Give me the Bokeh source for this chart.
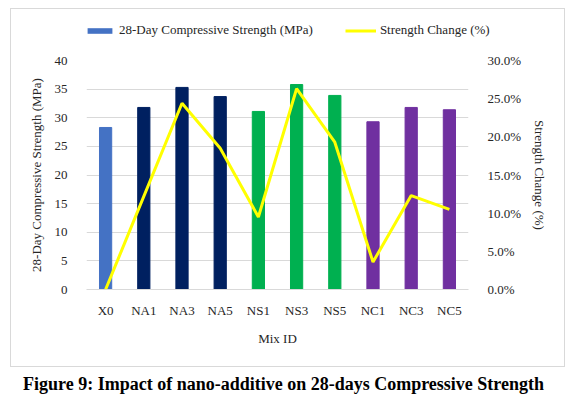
from bokeh.plotting import figure
from bokeh.models import (FactorRange, Range1d, LinearAxis, FixedTicker,
                          NumeralTickFormatter, Legend, LegendItem, ColumnDataSource, Div, Spacer)
from bokeh.layouts import column, row
from bokeh.embed import file_html
from bokeh.resources import INLINE

mixes = ["X0", "NA1", "NA3", "NA5", "NS1", "NS3", "NS5", "NC1", "NC3", "NC5"]
strength_mpa = [28.3, 31.8, 35.3, 33.7, 31.1, 35.8, 33.9, 29.3, 31.8, 31.4]
change_pct = [0.0, 12.2, 24.4, 18.5, 9.5, 26.3, 19.3, 3.6, 12.3, 10.5]
bar_colors = ["#4472C4", "#002060", "#002060", "#002060",
              "#00B050", "#00B050", "#00B050",
              "#7030A0", "#7030A0", "#7030A0"]
left_ticks = [0, 5, 10, 15, 20, 25, 30, 35, 40]
right_ticks = [0.0, 0.05, 0.10, 0.15, 0.20, 0.25, 0.30]
series_names = ["28-Day Compressive Strength (MPa)", "Strength Change (%)"]

FONT = "Liberation Serif"
GRID = "#d9d9d9"
TXT = "#262626"
LINE_COLOR = "#FFFF00"

src = ColumnDataSource(dict(
    mix=mixes, s=strength_mpa,
    c=[v / 100.0 for v in change_pct], col=bar_colors))

# ---- main chart ----
p = figure(x_range=FactorRange(*mixes), y_range=Range1d(0, 40),
           width=553, height=314, output_backend="svg", toolbar_location=None,
           min_border_left=75, min_border_right=96, min_border_top=8, min_border_bottom=77)
p.frame_align = False
p.extra_y_ranges = {"pct": Range1d(0, 0.30)}

bars = p.vbar(x="mix", top="s", width=0.32, color="col", source=src)
ln = p.line(x="mix", y="c", y_range_name="pct", source=src,
            line_color=LINE_COLOR, line_width=3)

p.outline_line_color = None
p.xgrid.grid_line_color = None
p.ygrid.grid_line_color = GRID
p.ygrid.grid_line_width = 1
p.ygrid.ticker = FixedTicker(ticks=left_ticks)

p.yaxis.ticker = FixedTicker(ticks=left_ticks)
p.yaxis.axis_label = series_names[0]

ax2 = LinearAxis(y_range_name="pct", ticker=FixedTicker(ticks=right_ticks),
                 formatter=NumeralTickFormatter(format="0.0%"),
                 axis_label=series_names[1])
p.add_layout(ax2, "right")

p.xaxis.axis_label = "Mix ID"

for ax in [p.xaxis[0], p.yaxis[0], ax2]:
    ax.major_tick_line_color = None
    ax.minor_tick_line_color = None
    ax.axis_line_color = None
    ax.major_label_text_font = FONT
    ax.major_label_text_font_size = "13px"
    ax.major_label_text_color = TXT
    ax.axis_label_text_font = FONT
    ax.axis_label_text_font_size = "13px"
    ax.axis_label_text_font_style = "normal"
    ax.axis_label_text_color = TXT
    ax.major_label_standoff = 13

p.xaxis.axis_line_color = GRID
p.xaxis.major_label_standoff = 7
p.xaxis.axis_label_standoff = 10
p.yaxis.axis_label_standoff = 8
ax2.axis_label_standoff = 8

# ---- legend strip (its own small figure, so the legend is not clipped) ----
lg = figure(x_range=Range1d(0, 1), y_range=Range1d(0, 1), width=553, height=43,
            output_backend="svg", toolbar_location=None,
            x_axis_location=None, y_axis_location=None,
            min_border_left=0, min_border_right=0, min_border_top=0, min_border_bottom=0)
lg.frame_align = False
lg.outline_line_color = None
lg.xgrid.grid_line_color = None
lg.ygrid.grid_line_color = None
proxy = ColumnDataSource(dict(x=[-2.0, -1.5], y=[-2.0, -1.5]))  # off-screen legend proxies
kb = lg.vbar(x="x", top="y", width=0.3, fill_color=bar_colors[0], line_color=None, source=proxy)
kl = lg.line(x="x", y="y", line_color=LINE_COLOR, line_width=3, source=proxy)

legend = Legend(items=[LegendItem(label=series_names[0], renderers=[kb]),
                       LegendItem(label=series_names[1], renderers=[kl])],
                orientation="horizontal", location=(73, 14))
legend.padding = 0
legend.margin = 0
legend.spacing = 32
legend.glyph_width = 31
legend.glyph_height = 7
legend.label_height = 14
legend.label_standoff = 4
legend.label_text_font = FONT
legend.label_text_font_size = "13px"
legend.label_text_color = TXT
legend.border_line_color = None
legend.background_fill_alpha = 0
lg.add_layout(legend)

chart = column(lg, p, spacing=0, styles={"border": "1px solid #d9d9d9"})

cap = Div(text="Figure 9: Impact of nano-additive on 28-days Compressive Strength",
          width=557, height=24,
          styles={"font-family": FONT, "font-weight": "bold", "font-size": "18px",
                  "text-align": "center", "width": "557px", "color": "#000",
                  "line-height": "24px", "white-space": "nowrap"})

layout = column(Spacer(height=8), row(Spacer(width=10), chart), cap, spacing=0)
open("out.html", "w").write(file_html(layout, INLINE))
